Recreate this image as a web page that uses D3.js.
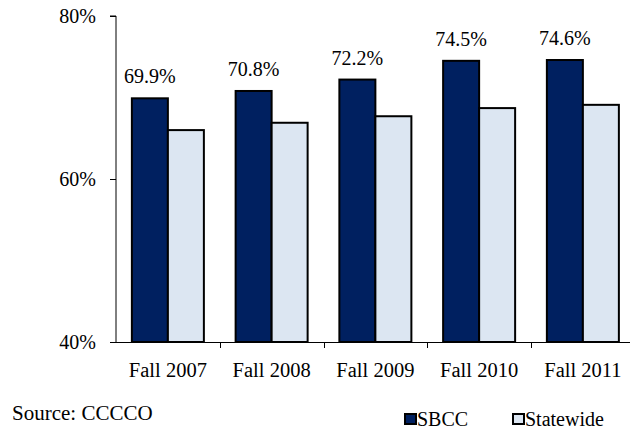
<!DOCTYPE html>
<html>
<head>
<meta charset="utf-8">
<script src="https://cdn.jsdelivr.net/npm/d3@7"></script>
</head>
<body style="margin:0">
<svg id="chart" width="630" height="430" font-family="Liberation Serif"></svg>
<script>
const categories = ["Fall 2007", "Fall 2008", "Fall 2009", "Fall 2010", "Fall 2011"];
const sbcc = [69.9, 70.8, 72.2, 74.5, 74.6];
const statewide = [66.0, 66.9, 67.7, 68.7, 69.1];
const yTicks = [40, 60, 80];
const seriesNames = ["SBCC", "Statewide"];
const seriesColors = ["#002060", "#dce6f2"];

const FONT = "Liberation Serif";
const svg = d3.select("#chart");
const x0 = 116, x1 = 634.75, yTop = 16, yBot = 342;

const x = d3.scaleBand().domain(categories).range([x0, x1]).paddingInner(0).paddingOuter(0);
const xs = d3.scaleBand().domain(seriesNames).range([0, 72]);
const y = d3.scaleLinear().domain([40, 80]).range([yBot, yTop]);

// bars
const data = categories.map((c, i) => ({ c, vals: [sbcc[i], statewide[i]] }));
const groups = svg.append("g").selectAll("g").data(data).join("g")
  .attr("transform", d => `translate(${x(d.c) + x.bandwidth() / 2 - 36},0)`);
groups.selectAll("rect").data(d => d.vals.map((v, j) => ({ v, s: seriesNames[j], j })))
  .join("rect")
  .attr("x", d => xs(d.s))
  .attr("y", d => y(d.v))
  .attr("width", xs.bandwidth())
  .attr("height", d => yBot - y(d.v))
  .attr("fill", d => seriesColors[d.j])
  .attr("stroke", "#000")
  .attr("stroke-width", 2);

// value labels on SBCC bars
svg.append("g").selectAll("text").data(data).join("text")
  .attr("x", d => x(d.c) + x.bandwidth() / 2 - 36 + xs("SBCC") + xs.bandwidth() / 2)
  .attr("y", d => y(d.vals[0]) - 22)
  .attr("dy", "0.35em")
  .attr("text-anchor", "middle")
  .attr("font-family", FONT).attr("font-size", 20)
  .text(d => d.vals[0].toFixed(1) + "%");

// y axis
const yAxis = d3.axisLeft(y).tickValues(yTicks).tickSize(6).tickPadding(14)
  .tickFormat(d => d + "%");
const gy = svg.append("g").attr("transform", `translate(${x0},0)`).call(yAxis);
gy.attr("font-family", FONT).attr("font-size", 20);
gy.select(".domain").attr("d", `M-6,${yTop}H0V${yBot}`).attr("stroke", "#000");
gy.selectAll(".tick line").attr("stroke", "#000");
gy.selectAll(".tick text").attr("fill", "#000").attr("font-family", FONT);

// x axis
const xAxis = d3.axisBottom(x).tickSize(0).tickPadding(20);
const gx = svg.append("g").attr("transform", `translate(0,${yBot})`).call(xAxis);
gx.attr("font-family", FONT).attr("font-size", 20.5);
gx.select(".domain").attr("d", `M${x0},0.5H630`).attr("stroke", "#000");
gx.selectAll(".tick text").attr("fill", "#000").attr("font-family", FONT);
// boundary ticks
gx.append("g").selectAll("line").data(categories.slice(1)).join("line")
  .attr("x1", d => Math.round(x(d)) + 0.5).attr("x2", d => Math.round(x(d)) + 0.5)
  .attr("y1", 0).attr("y2", 6).attr("stroke", "#000");

// source
svg.append("text").attr("x", 12).attr("y", 413).attr("dy", "0.35em")
  .attr("font-family", FONT).attr("font-size", 21).text("Source: CCCCO");

// legend
const legendX = [404, 512];
const lg = svg.append("g").selectAll("g").data(seriesNames).join("g")
  .attr("transform", (d, i) => `translate(${legendX[i]},413)`);
lg.append("rect").attr("x", 1).attr("y", 1).attr("width", 11).attr("height", 10)
  .attr("fill", (d, i) => seriesColors[i]).attr("stroke", "#000").attr("stroke-width", 2);
lg.append("text").attr("x", 13).attr("y", 6).attr("dy", "0.35em")
  .attr("font-family", FONT).attr("font-size", 20).text(d => d);
</script>
</body>
</html>
